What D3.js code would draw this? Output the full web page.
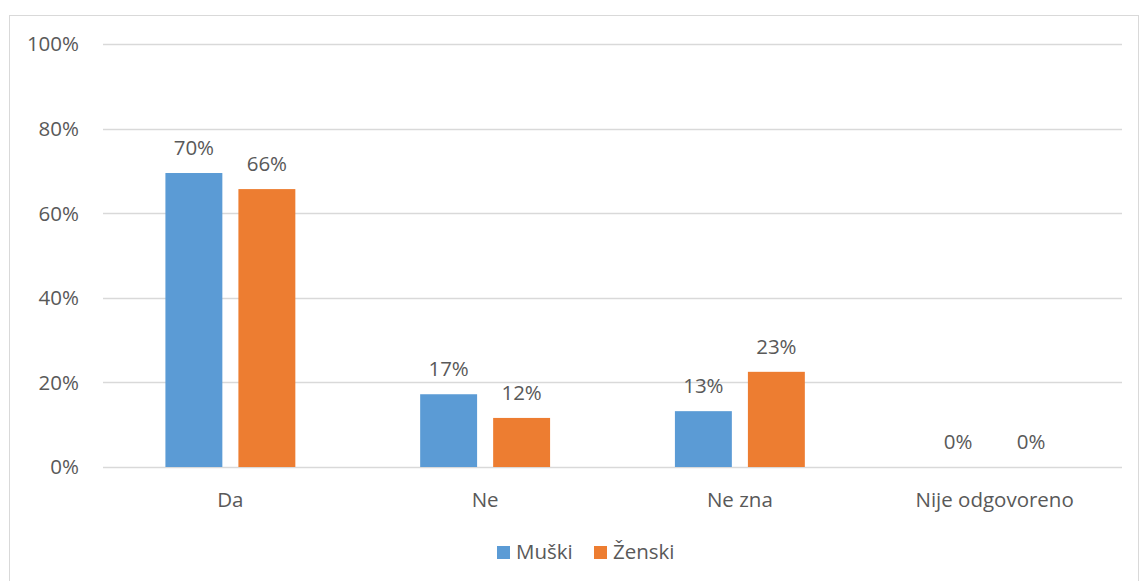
<!doctype html><html><head><meta charset="utf-8"></head><body style="margin:0;background:#fff">
<script src="https://d3js.org/d3.v7.min.js"></script>
<style>
  svg text {
    fill: #595959;
    font-family: "Open Sans", sans-serif;
    font-size: 20.5px;
  }
</style>
<script>
  // chart data
  var categories = ["Da", "Ne", "Ne zna", "Nije odgovoreno"];
  var series = ["Muški", "Ženski"];
  var muski = [0.695, 0.172, 0.132, 0];
  var zenski = [0.657, 0.116, 0.225, 0];
  var yTicks = [0, 0.2, 0.4, 0.6, 0.8, 1];
  var colors = ["#5B9BD5", "#ED7D31"];

  var width = 1141, height = 581;
  var plotLeft = 103, plotRight = 1122, plotTop = 44, plotBottom = 467;

  var rows = categories.map(function(c, i) {
    return {cat: c, vals: [muski[i], zenski[i]]};
  });

  var svg = d3.select("body").append("svg")
    .attr("width", width)
    .attr("height", height);

  // chart border
  svg.append("rect")
    .attr("x", 9.5).attr("y", 15.5)
    .attr("width", 1129).attr("height", 570)
    .attr("fill", "none")
    .attr("stroke", "#d9d9d9");

  var x0 = d3.scaleBand().domain(categories).range([plotLeft, plotRight])
    .paddingInner(0.49).paddingOuter(0.245);
  var x1 = d3.scaleBand().domain(series).range([0, x0.bandwidth()]).paddingInner(0.22);
  var y = d3.scaleLinear().domain([0, 1]).range([plotBottom, plotTop]);

  // gridlines
  svg.append("g").selectAll("line")
    .data(yTicks)
    .enter().append("line")
    .attr("x1", plotLeft).attr("x2", plotRight)
    .attr("y1", function(d) { return Math.round(y(d)) + 0.5; })
    .attr("y2", function(d) { return Math.round(y(d)) + 0.5; })
    .attr("stroke", "#d9d9d9")
    .attr("stroke-width", 1.3);

  // y axis labels
  svg.append("g").selectAll("text")
    .data(yTicks)
    .enter().append("text")
    .attr("x", 79)
    .attr("y", function(d) { return y(d); })
    .attr("dy", ".36em")
    .attr("text-anchor", "end")
    .text(d3.format(".0%"));

  // bars
  var groups = svg.append("g").selectAll("g")
    .data(rows)
    .enter().append("g")
    .attr("transform", function(d) { return "translate(" + x0(d.cat) + ",0)"; });

  groups.selectAll("rect")
    .data(function(d) { return d.vals.map(function(v, i) { return {s: series[i], v: v, i: i}; }); })
    .enter().append("rect")
    .attr("x", function(d) { return x1(d.s); })
    .attr("y", function(d) { return y(d.v); })
    .attr("width", x1.bandwidth())
    .attr("height", function(d) { return plotBottom - y(d.v); })
    .attr("fill", function(d) { return colors[d.i]; });

  groups.selectAll("text")
    .data(function(d) { return d.vals.map(function(v, i) { return {s: series[i], v: v}; }); })
    .enter().append("text")
    .attr("x", function(d) { return x1(d.s) + x1.bandwidth() / 2; })
    .attr("y", function(d) { return y(d.v) - 18; })
    .attr("text-anchor", "middle")
    .text(function(d) { return Math.round(d.v * 100) + "%"; });

  // category labels
  svg.append("g").selectAll("text")
    .data(categories)
    .enter().append("text")
    .attr("x", function(d) { return x0(d) + x0.bandwidth() / 2; })
    .attr("y", 507)
    .attr("text-anchor", "middle")
    .text(function(d) { return d; });

  // legend
  var legX = [497, 594];
  var leg = svg.append("g").selectAll("g")
    .data(series)
    .enter().append("g")
    .attr("transform", function(d, i) { return "translate(" + legX[i] + ",546)"; });
  leg.append("rect")
    .attr("width", 13).attr("height", 13)
    .attr("fill", function(d, i) { return colors[i]; });
  leg.append("text")
    .attr("x", 19).attr("y", 12.5)
    .text(function(d) { return d; });
</script>
</body></html>
